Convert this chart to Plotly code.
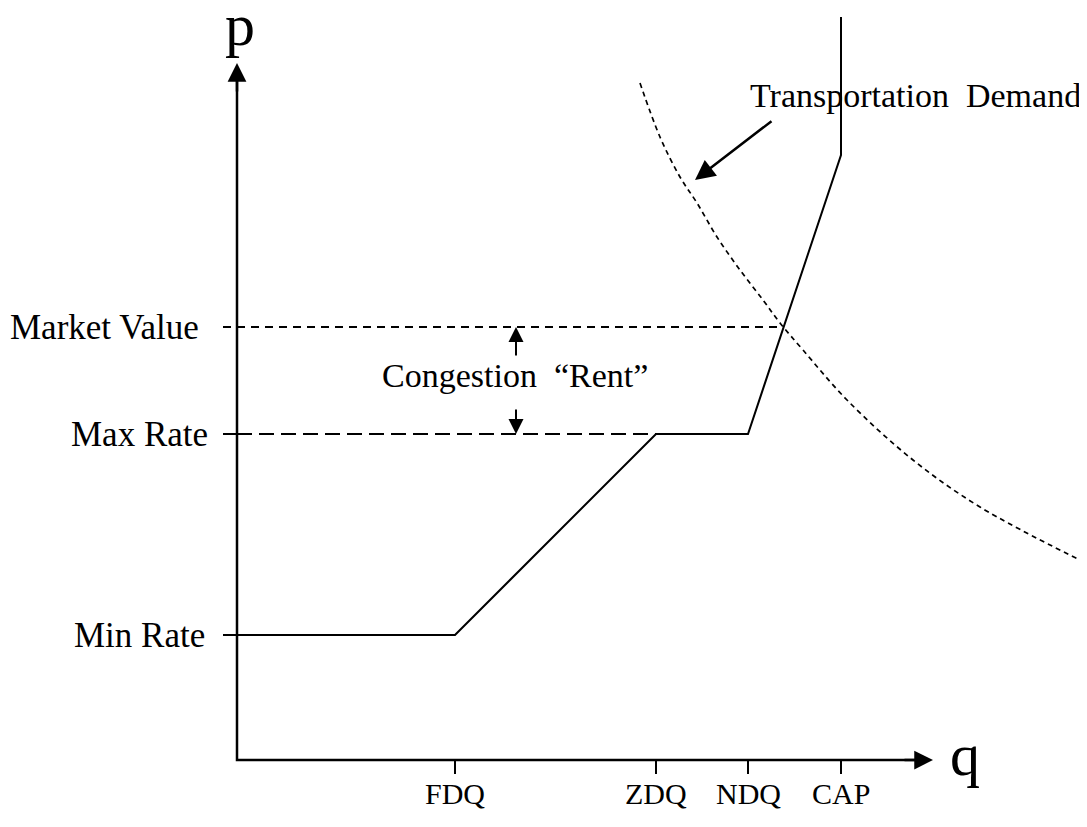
import plotly.graph_objects as go

# ---- data (q measured from origin, p measured from origin) ----
q_tick_vals = [218, 419, 511, 604]
q_tick_labels = ["FDQ", "ZDQ", "NDQ", "CAP"]

p_level_names = ["Min Rate", "Max Rate", "Market Value"]
p_levels = [125, 326, 433]

supply_q = [-14, 218, 419, 511, 604, 604]
supply_p = [125, 125, 326, 326, 605, 743]

demand_q = [403, 423, 443, 460, 480, 503, 526, 543, 566, 610, 676, 743, 843]
demand_p = [677, 623, 583, 557, 523, 490, 460, 437, 410, 360, 300, 253, 200]

q_axis_end = 696
p_axis_end = 697
market_line_end = 547

FONT = "Liberation Serif"
BLACK = "#000000"

fig = go.Figure()

# axes
fig.add_trace(go.Scatter(x=[0, 0, q_axis_end - 14], y=[p_axis_end - 14, 0, 0], mode="lines",
                         line=dict(color=BLACK, width=2.5), hoverinfo="skip"))
# x ticks
for qv in q_tick_vals:
    fig.add_trace(go.Scatter(x=[qv, qv], y=[0, -14], mode="lines",
                             line=dict(color=BLACK, width=2), hoverinfo="skip"))

# supply curve
fig.add_trace(go.Scatter(x=supply_q, y=supply_p, mode="lines",
                         line=dict(color=BLACK, width=2), hoverinfo="skip"))

# max rate: tick + long-dash line
fig.add_trace(go.Scatter(x=[-14, 0], y=[p_levels[1], p_levels[1]], mode="lines",
                         line=dict(color=BLACK, width=2), hoverinfo="skip"))
fig.add_trace(go.Scatter(x=[0, q_tick_vals[1]], y=[p_levels[1], p_levels[1]], mode="lines",
                         line=dict(color=BLACK, width=2, dash="15px,7px"), hoverinfo="skip"))

# market value dashed line
fig.add_trace(go.Scatter(x=[-14, market_line_end], y=[p_levels[2], p_levels[2]], mode="lines",
                         line=dict(color=BLACK, width=2, dash="8px,6px"), hoverinfo="skip"))

# demand curve
fig.add_trace(go.Scatter(x=demand_q, y=demand_p, mode="lines", line_shape="spline",
                         line=dict(color=BLACK, width=1.7, dash="5px,4px", smoothing=1.0),
                         hoverinfo="skip"))

annotations = []

def arrow(x0, y0, x1, y1, size=1.0, width=2):
    annotations.append(dict(x=x1, y=y1, ax=x0, ay=y0, xref="x", yref="y", axref="x", ayref="y",
                            text="", showarrow=True, arrowhead=2, arrowsize=size, arrowwidth=width,
                            arrowcolor=BLACK, standoff=0, startstandoff=0))

# axis arrows
arrow(0, p_axis_end - 30, 0, p_axis_end, size=1.5, width=2.5)
arrow(q_axis_end - 30, 0, q_axis_end, 0, size=1.5, width=2.5)

# congestion rent arrows
arrow(279, 403, 279, p_levels[2], size=1.5, width=2)
arrow(279, 352, 279, p_levels[1], size=1.5, width=2)

# demand pointer arrow
arrow(536, 640, 458, 580, size=1.6, width=2.5)

def text(x, y, s, size, xanchor="center", yanchor="middle"):
    annotations.append(dict(x=x, y=y, xref="x", yref="y", text=s, showarrow=False,
                            xanchor=xanchor, yanchor=yanchor,
                            font=dict(family=FONT, size=size, color=BLACK)))

# axis labels
text(3, 735, "p", 60)
text(728, 5, "q", 60)

# tick labels
for qv, lab in zip(q_tick_vals, q_tick_labels):
    text(qv, -33, lab, 30)

# level labels
text(-30, p_levels[0], p_level_names[0], 35, xanchor="right")
text(-27, p_levels[1], p_level_names[1], 35, xanchor="right")
text(-36, p_levels[2], p_level_names[2], 35, xanchor="right")

text(278, 385, "Congestion  “Rent”", 34)
text(678, 665, "Transportation  Demand", 34)

# page body has an 8px margin, so the figure is drawn 8px in from the top-left
fig.update_layout(
    width=1079, height=819,
    margin=dict(l=0, r=0, t=0, b=0),
    paper_bgcolor="white", plot_bgcolor="white",
    showlegend=False,
    annotations=annotations,
    xaxis=dict(range=[-229, 850], visible=False, fixedrange=True),
    yaxis=dict(range=[-67, 752], visible=False, fixedrange=True),
)

fig.write_html("out.html")
